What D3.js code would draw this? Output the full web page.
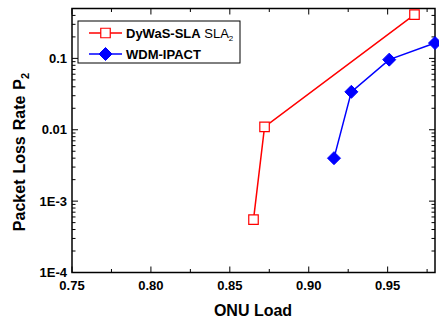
<!DOCTYPE html>
<html><head><meta charset="utf-8">
<script src="https://cdn.jsdelivr.net/npm/d3@7"></script>
<style>body{margin:0;background:#fff}svg{display:block}text{font-family:"Liberation Sans",Arial,sans-serif}</style>
</head><body><svg id="c" width="439" height="321"></svg>
<script>
const dywasLoad = [0.865, 0.872, 0.967];
const dywasLoss = [0.00055, 0.011, 0.41];
const wdmLoad = [0.916, 0.927, 0.951, 0.98];
const wdmLoss = [0.0040, 0.034, 0.096, 0.164];
const xTicks = [0.75, 0.80, 0.85, 0.90, 0.95];
const yTicks = [1e-4, 1e-3, 0.01, 0.1];
const yTickLabels = ["1E-4", "1E-3", "0.01", "0.1"];

const svg = d3.select("#c");
const L = 72, R = 435, T = 8.5, B = 272.5;
const x = d3.scaleLinear().domain([0.75, 0.98]).range([L, R]);
const y = d3.scaleLog().domain([1e-4, 0.5]).range([B, T]);

// frame
svg.append("rect").attr("x", L).attr("y", T).attr("width", R - L).attr("height", B - T)
  .attr("fill", "none").attr("stroke", "#000").attr("stroke-width", 1.5);

const xMinor = d3.range(0.75, 0.981, 0.025).map(v => +v.toFixed(3));
const yMinor = [];
for (let e = -4; e <= -1; e++) for (let k = 2; k <= 9; k++) { const v = k * Math.pow(10, e); if (v <= 0.5) yMinor.push(v); }

const g = svg.append("g").attr("stroke", "#000").attr("stroke-width", 1);
xMinor.forEach(v => {
  const major = xTicks.some(t => Math.abs(t - v) < 1e-6);
  const len = major ? 6 : 3.5;
  g.append("line").attr("x1", x(v)).attr("x2", x(v)).attr("y1", B).attr("y2", B - len);
  g.append("line").attr("x1", x(v)).attr("x2", x(v)).attr("y1", T).attr("y2", T + len);
});
yTicks.forEach(v => {
  g.append("line").attr("x1", L).attr("x2", L + 6).attr("y1", y(v)).attr("y2", y(v));
  g.append("line").attr("x1", R).attr("x2", R - 6).attr("y1", y(v)).attr("y2", y(v));
});
yMinor.forEach(v => {
  g.append("line").attr("x1", L).attr("x2", L + 3.5).attr("y1", y(v)).attr("y2", y(v));
  g.append("line").attr("x1", R).attr("x2", R - 3.5).attr("y1", y(v)).attr("y2", y(v));
});

svg.selectAll(".xl").data(xTicks).enter().append("text")
  .attr("x", d => x(d)).attr("y", 290).attr("text-anchor", "middle")
  .attr("font-size", 13).attr("font-weight", "bold").text(d => d.toFixed(2));
svg.selectAll(".yl").data(yTicks).enter().append("text")
  .attr("x", 67).attr("y", d => y(d) + 4.5).attr("text-anchor", "end")
  .attr("font-size", 13).attr("font-weight", "bold").text((d, i) => yTickLabels[i]);

svg.append("text").attr("x", 253).attr("y", 316).attr("text-anchor", "middle")
  .attr("font-size", 16).attr("font-weight", "bold").text("ONU Load");
const yt = svg.append("text").attr("transform", "translate(25,152) rotate(-90)")
  .attr("text-anchor", "middle").attr("font-size", 16).attr("font-weight", "bold")
  .attr("word-spacing", 1.5);
yt.append("tspan").text("Packet Loss Rate P");
yt.append("tspan").attr("font-size", 11).attr("dy", 4).text("2");

const line = d3.line().x(d => x(d[0])).y(d => y(d[1]));
const red = dywasLoad.map((v, i) => [v, dywasLoss[i]]);
const blue = wdmLoad.map((v, i) => [v, wdmLoss[i]]);
svg.append("path").attr("d", line(red)).attr("fill", "none").attr("stroke", "#ff0000").attr("stroke-width", 1.5);
svg.append("path").attr("d", line(blue)).attr("fill", "none").attr("stroke", "#0000ff").attr("stroke-width", 1.5);

const sq = d3.symbol().type(d3.symbolSquare).size(90);
const dia = (cx, cy, r) => `M${cx},${cy - r}L${cx + r},${cy}L${cx},${cy + r}L${cx - r},${cy}Z`;
svg.selectAll(".rp").data(red).enter().append("path")
  .attr("transform", d => `translate(${x(d[0])},${y(d[1])})`).attr("d", sq())
  .attr("fill", "#fff").attr("stroke", "#ff0000").attr("stroke-width", 1.2);
svg.selectAll(".bp").data(blue).enter().append("path")
  .attr("d", d => dia(x(d[0]), y(d[1]), 6.5)).attr("fill", "#0000ff").attr("stroke", "#0000ff");

svg.append("rect").attr("x", 78).attr("y", 21).attr("width", 162).attr("height", 42)
  .attr("fill", "#fff").attr("stroke", "#000").attr("stroke-width", 1);
svg.append("line").attr("x1", 89).attr("x2", 122).attr("y1", 33).attr("y2", 33).attr("stroke", "#ff0000").attr("stroke-width", 1.5);
svg.append("path").attr("transform", "translate(105.5,33)").attr("d", sq()).attr("fill", "#fff").attr("stroke", "#ff0000").attr("stroke-width", 1.2);
svg.append("line").attr("x1", 89).attr("x2", 122).attr("y1", 54).attr("y2", 54).attr("stroke", "#0000ff").attr("stroke-width", 1.5);
svg.append("path").attr("d", dia(105.5, 54, 6.5)).attr("fill", "#0000ff").attr("stroke", "#0000ff");
const t1 = svg.append("text").attr("x", 126).attr("y", 38).attr("font-size", 13);
t1.append("tspan").attr("font-weight", "bold").text("DyWaS-SLA");
t1.append("tspan").text(" SLA");
t1.append("tspan").attr("font-size", 8).attr("dy", 3).text("2");
svg.append("text").attr("x", 126).attr("y", 59).attr("font-size", 13).attr("font-weight", "bold").text("WDM-IPACT");
</script></body></html>
